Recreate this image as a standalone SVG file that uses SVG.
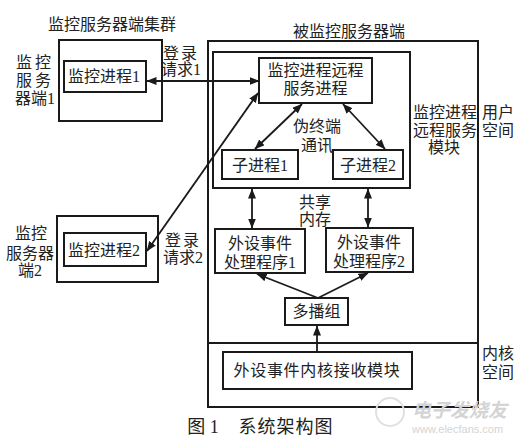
<svg xmlns="http://www.w3.org/2000/svg" width="521" height="444" viewBox="0 0 521 444">
<style>
.b{fill:none;stroke:#1a1a1a;stroke-width:2}
.t{font-family:"Liberation Serif","Noto Sans CJK SC",serif;font-size:16px;fill:#222;text-anchor:middle}
.c{stroke:#1a1a1a;stroke-width:1.8;fill:none}
.wm{font-family:"Liberation Sans","Noto Sans CJK SC",sans-serif;fill:#d4d4d4;text-anchor:start}
</style>
<defs>
<marker id="ah" viewBox="0 0 10 8" refX="9.5" refY="4" markerWidth="10" markerHeight="8" markerUnits="userSpaceOnUse" orient="auto-start-reverse">
<path d="M0,0 L10,4 L0,8 Z" fill="#1a1a1a"/>
</marker>
</defs>
<rect width="521" height="444" fill="#fff"/>

<g id="cluster-title"><text class="t" x="112" y="30">监控服务器端集群</text></g>

<g id="server1">
<rect class="b" x="59" y="40" width="103" height="81"/>
<text class="t" x="35" y="68" letter-spacing="3">监控</text>
<text class="t" x="35" y="86" letter-spacing="3">服务</text>
<text class="t" x="35" y="104">器端1</text>
</g>
<g id="proc1">
<rect class="b" x="64" y="61" width="82" height="31"/>
<text class="t" x="104" y="82">监控进程1</text>
</g>
<g id="login1"><text class="t" x="181" y="59" letter-spacing="2">登录</text><text class="t" x="181" y="75">请求1</text></g>

<g id="server2">
<rect class="b" x="57" y="216" width="101" height="66"/>
<text class="t" x="31" y="239">监控</text>
<text class="t" x="30" y="259">服务器</text>
<text class="t" x="30" y="276">端2</text>
</g>
<g id="proc2">
<rect class="b" x="64" y="233" width="82" height="33"/>
<text class="t" x="104" y="256">监控进程2</text>
</g>
<g id="login2"><text class="t" x="183" y="246" letter-spacing="2">登录</text><text class="t" x="183" y="263">请求2</text></g>

<g id="monitored-server">
<rect class="b" x="208" y="41" width="270" height="366"/>
<line class="b" x1="208" y1="343" x2="478" y2="343"/>
<text class="t" x="349" y="37">被监控服务器端</text>
<text class="t" x="498" y="118">用户</text>
<text class="t" x="498" y="136">空间</text>
<text class="t" x="498" y="359">内核</text>
<text class="t" x="498" y="378">空间</text>
</g>

<g id="user-module">
<rect class="b" x="213" y="52" width="197" height="136"/>
<text class="t" x="445" y="118">监控进程</text>
<text class="t" x="445" y="136">远程服务</text>
<text class="t" x="444" y="153">模块</text>
</g>

<g id="remote-service">
<rect class="b" x="259" y="58" width="113" height="45"/>
<text class="t" x="315.5" y="76">监控进程远程</text>
<text class="t" x="315.5" y="94">服务进程</text>
</g>

<g id="pty-label"><text class="t" x="317" y="132">伪终端</text><text class="t" x="317" y="151">通讯</text></g>

<g id="child1">
<rect class="b" x="222" y="150" width="76" height="29"/>
<text class="t" x="260" y="171">子进程1</text>
</g>
<g id="child2">
<rect class="b" x="333" y="150" width="70" height="29"/>
<text class="t" x="368" y="171">子进程2</text>
</g>

<g id="shm-label"><text class="t" x="315" y="208">共享</text><text class="t" x="315" y="225">内存</text></g>

<g id="handler1">
<rect class="b" x="215" y="229" width="90" height="44"/>
<text class="t" x="260" y="249">外设事件</text>
<text class="t" x="260" y="268">处理程序1</text>
</g>
<g id="handler2">
<rect class="b" x="326" y="228" width="87" height="44"/>
<text class="t" x="369" y="248">外设事件</text>
<text class="t" x="369" y="267">处理程序2</text>
</g>

<g id="multicast">
<rect class="b" x="285" y="298" width="63" height="27"/>
<text class="t" x="316.5" y="317">多播组</text>
</g>

<g id="kernel-recv">
<rect class="b" x="223" y="352" width="189" height="37"/>
<text class="t" x="317" y="376" letter-spacing="0.7">外设事件内核接收模块</text>
</g>

<g id="connectors">
<line class="c" x1="147" y1="81" x2="259" y2="81" marker-start="url(#ah)" marker-end="url(#ah)"/>
<line class="c" x1="147" y1="251" x2="258" y2="93" marker-start="url(#ah)" marker-end="url(#ah)"/>
<line class="c" x1="302" y1="104" x2="255" y2="149" marker-start="url(#ah)" marker-end="url(#ah)"/>
<line class="c" x1="343" y1="104" x2="385" y2="149" marker-start="url(#ah)" marker-end="url(#ah)"/>
<line class="c" x1="252" y1="189" x2="252" y2="228" marker-start="url(#ah)" marker-end="url(#ah)"/>
<line class="c" x1="368" y1="189" x2="368" y2="227" marker-start="url(#ah)" marker-end="url(#ah)"/>
<line class="c" x1="318" y1="298" x2="257" y2="274" marker-end="url(#ah)"/>
<line class="c" x1="318" y1="298" x2="368" y2="273" marker-end="url(#ah)"/>
<line class="c" x1="317" y1="352" x2="317" y2="326" marker-end="url(#ah)"/>
</g>

<g id="caption">
<text class="t" x="203" y="433" style="font-size:18px">图 1</text>
<text class="t" x="286" y="433" style="font-size:18px" letter-spacing="1">系统架构图</text>
</g>

<g id="watermark">
<circle cx="390" cy="412" r="14" fill="none" stroke="#e0e0e0" stroke-width="2"/>
<text class="wm" x="412" y="417" style="font-size:19px;font-style:italic;font-weight:bold">电子发烧友</text>
<text class="wm" x="412" y="433" style="font-size:11px">www.elecfans.com</text>
</g>
</svg>
